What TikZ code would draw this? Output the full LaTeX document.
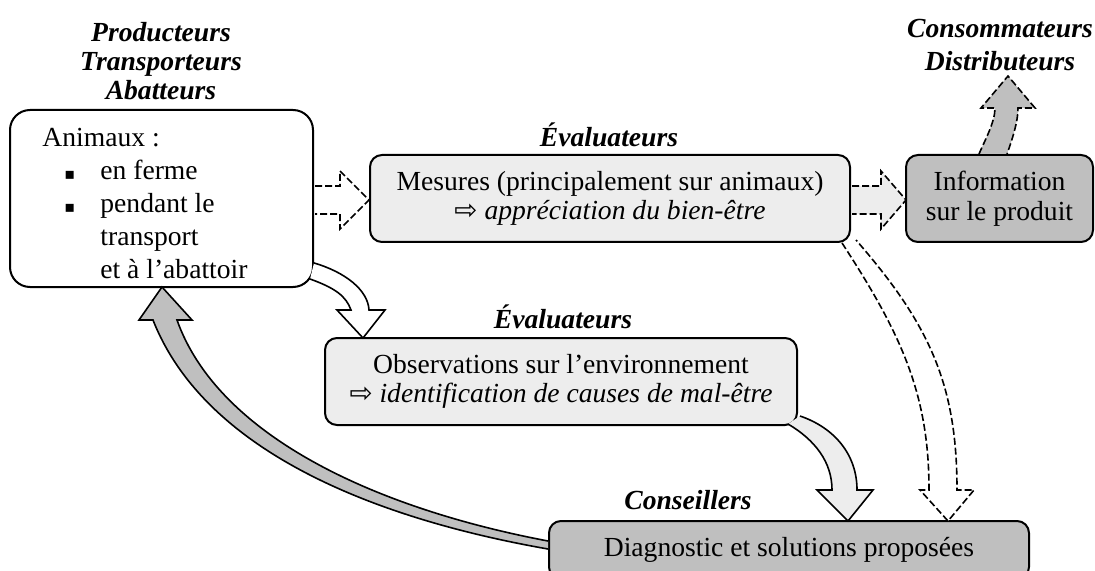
\documentclass[tikz,border=0pt]{standalone}
\usepackage{fontspec}
\setmainfont{Liberation Serif}
\newfontfamily\symfont{DejaVu Sans}
\newcommand{\smallsq}{{\symfont\fontsize{8}{8}\selectfont ▪}}
\begin{document}
\begin{tikzpicture}[x=0.5pt,y=-0.5pt,
  box/.style={draw, line width=1pt, rounded corners=6pt, inner sep=0pt, align=center,
    font=\fontsize{13.8}{14.8}\selectfont},
  lightbox/.style={box, fill=black!7},
  darkbox/.style={box, fill=black!25},
  lab/.style={font=\fontsize{13.8}{14.5}\selectfont\bfseries\itshape, align=center, inner sep=0pt},
  arr/.style={line width=0.8pt, line join=miter, miter limit=4},
  darr/.style={arr, dash pattern=on 3.5pt off 1.5pt},
]
\useasboundingbox (0,0) rectangle (1095,571);

% boxes
\node[box, fill=white, rounded corners=10pt, minimum width=151.5pt, minimum height=88.5pt] (anim) at (161.5,198.5) {};
\node[anchor=north west, inner sep=0pt, align=left, font=\fontsize{13.8}{16.5}\selectfont] (animtxt) at (42,128)
  {Animaux :\\
   \hspace*{11pt}\makebox[18pt][l]{\smallsq}en ferme\\
   \hspace*{11pt}\makebox[18pt][l]{\smallsq}pendant le\\
   \hspace*{29pt}transport\\
   \hspace*{29pt}et à l'abattoir};

\node[lightbox, minimum width=240pt, minimum height=43.5pt] (mes) at (610,198.5)
  {Mesures (principalement sur animaux)\\{\symfont ⇨} \textit{appréciation du bien-être}};
\node[darkbox, minimum width=93.5pt, minimum height=43.5pt] (info) at (999.5,198.5)
  {Information\\sur le produit};
\node[lightbox, minimum width=236pt, minimum height=43.5pt] (obs) at (561,381.5)
  {Observations sur l'environnement\\{\symfont ⇨} \textit{identification de causes de mal-être}};
\node[darkbox, minimum width=240pt, minimum height=29pt] (diag) at (789,550)
  {Diagnostic et solutions proposées};

% labels
\node[lab] (prod) at (161,61) {Producteurs\\Transporteurs\\Abatteurs};
\node[lab] (eval1) at (609,135) {Évaluateurs};
\node[lab, font=\fontsize{13.8}{16.5}\selectfont\bfseries\itshape] (cons) at (1000,45) {Consommateurs\\Distributeurs};
\node[lab] (eval2) at (563,317) {Évaluateurs};
\node[lab] (conseil) at (688,500) {Conseillers};

% block arrows
% anim -> mes
\draw[darr, fill=white] (315,186) -- (340,186) -- (340,171) -- (369,200) -- (340,229) -- (340,214) -- (315,214);
% mes -> info
\draw[darr, fill=black!7] (852,186) -- (881,186) -- (881,171) -- (906,200) -- (881,229) -- (881,214) -- (852,214);
% info -> consommateurs
\draw[darr, fill=black!25] (979,154) .. controls (985,140) and (995,122) .. (995,108) -- (981,108) -- (1008,76) -- (1035,108) -- (1018,108) .. controls (1018,122) and (1012,140) .. (1007,154);
% anim -> obs
\draw[arr, fill=white] (314,263) .. controls (345,272) and (368,290) .. (369,310) -- (385,310) -- (363,338) -- (337,310) -- (351,310) .. controls (346,296) and (335,288) .. (310,279);
% obs -> diag
\draw[arr, fill=black!7] (788,424) .. controls (815,440) and (832,462) .. (832,490) -- (817,490) -- (848,521) -- (873,490) -- (857,490) .. controls (857,455) and (835,428) .. (800,416);
% mes -> diag
\draw[darr, fill=white] (842,243) .. controls (902,335) and (929,395) .. (929,490) -- (920,490) -- (948,521) -- (974,490) -- (957,490) .. controls (957,385) and (930,325) .. (856,240);
% diag -> anim
\draw[arr, fill=black!25] (548,541) .. controls (368.5,507) and (216.9,432.7) .. (177,320) -- (192,320) -- (162,287) -- (139,320) -- (153,320) .. controls (203.1,447.3) and (365.5,517) .. (548,549);
\end{tikzpicture}
\end{document}
